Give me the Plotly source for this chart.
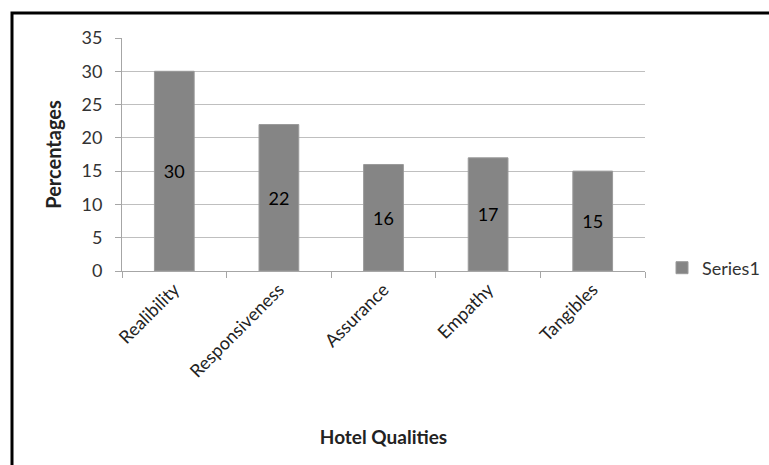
import plotly.graph_objects as go

categories = ["Realibility", "Responsiveness", "Assurance", "Empathy", "Tangibles"]
values = [30, 22, 16, 17, 15]
series_name = "Series1"
y_ticks = [0, 5, 10, 15, 20, 25, 30, 35]

W, H = 769, 465
L, R, T, B = 122, 124, 38, 194
pw, ph = W - L - R, H - T - B
FONT = "Lato, Open Sans, sans-serif"

fig = go.Figure()
fig.add_trace(go.Bar(
    x=categories, y=values, name=series_name,
    marker=dict(color="#858585", line=dict(color="#9a9a9a", width=1)),
    text=[str(v) for v in values], textposition="inside",
    insidetextanchor="middle", textangle=0,
    textfont=dict(color="black", size=18, family=FONT),
    showlegend=True,
))

fig.update_layout(
    width=W, height=H,
    margin=dict(l=L, r=R, t=T, b=B, autoexpand=False),
    paper_bgcolor="white", plot_bgcolor="white",
    font=dict(family=FONT, color="#222222", size=17),
    bargap=0.62,
    showlegend=True,
    legend=dict(x=(662 - L) / pw, y=(271 - 268) / ph, xanchor="left", yanchor="middle",
                font=dict(size=18, color="#333333"), bgcolor="rgba(0,0,0,0)",
                itemwidth=30, borderwidth=0, tracegroupgap=0),
    xaxis=dict(
        tickangle=-45, showgrid=False, showline=True, linecolor="#a6a6a6", linewidth=1,
        ticks="outside", ticklen=6, tickcolor="#a6a6a6", tickson="boundaries",
        tickfont=dict(size=18, color="#222222"),
        title=dict(text="<b>Hotel Qualities</b>", font=dict(size=19, color="#222222"), standoff=50),
    ),
    yaxis=dict(
        range=[0, 35], tickvals=y_ticks, showgrid=True, gridcolor="#bfbfbf", gridwidth=1,
        showline=True, linecolor="#a6a6a6", linewidth=1, zeroline=False,
        ticks="outside", ticklen=6, tickcolor="#a6a6a6", ticklabelstandoff=9,
        tickfont=dict(size=18, color="#333333"),
        title=dict(text="<b>Percentages</b>", font=dict(size=20, color="#222222"), standoff=14),
    ),
)

# outer frame (clipped at right and bottom in the reference)
fig.add_shape(type="path", xref="paper", yref="paper",
              path=f"M {(12 - L) / pw} {-(H + 10 - T - ph) / ph} L {(12 - L) / pw} {(T + ph - 13) / ph} L {(W + 10 - L) / pw} {(T + ph - 13) / ph}",
              line=dict(color="black", width=3), layer="above")

fig.write_html("out.html")
